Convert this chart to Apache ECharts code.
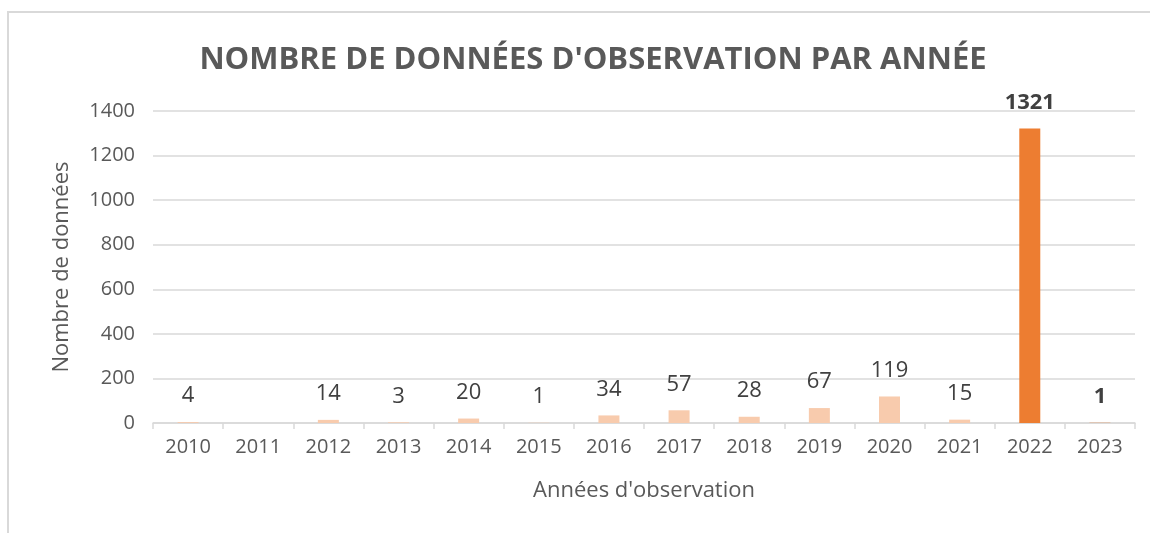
<!DOCTYPE html>
<html lang="fr">
  <head>
    <meta charset="UTF-8" />
    <script src="https://cdn.jsdelivr.net/npm/echarts@6/dist/echarts.min.js"></script>
    <title>Nombre de données d'observation par année</title>
  </head>
  <body style="margin: 0">
    <div id="main" style="width: 1150px; height: 533px"></div>
    <script>
      var years = ["2010", "2011", "2012", "2013", "2014", "2015", "2016",
        "2017", "2018", "2019", "2020", "2021", "2022", "2023"];
      var counts = [4, null, 14, 3, 20, 1, 34, 57, 28, 67, 119, 15, 1321, 1];
      var highlighted = ["2022", "2023"];
      var yTicks = [0, 200, 400, 600, 800, 1000, 1200, 1400];

      var FONT = "Open Sans";
      var myChart = echarts.init(document.getElementById("main"));

      var barData = counts.map(function (v, i) {
        var hi = highlighted.indexOf(years[i]) >= 0;
        return {
          value: v,
          itemStyle: { color: hi ? "#ED7D31" : "#F8CBAD" },
          label: { fontWeight: hi ? "bold" : "normal" },
        };
      });

      var option = {
        animation: false,
        textStyle: { fontFamily: FONT },
        graphic: [
          {
            type: "rect",
            shape: { x: 8, y: 12, width: 1160, height: 560 },
            style: { fill: "none", stroke: "#d9d9d9", lineWidth: 2 },
          },
        ],
        title: {
          text: "NOMBRE DE DONNÉES D'OBSERVATION PAR ANNÉE",
          left: 588,
          textAlign: "center",
          top: 40,
          textStyle: {
            fontFamily: FONT,
            fontSize: 31,
            fontWeight: "bold",
            color: "#595959",
          },
        },
        grid: { left: 153, right: 15, top: 111, bottom: 110 },
        xAxis: {
          type: "category",
          data: years,
          name: "Années d'observation",
          nameLocation: "middle",
          nameGap: 57,
          nameTextStyle: { fontSize: 22, color: "#595959", fontFamily: FONT },
          axisLine: { lineStyle: { color: "#d9d9d9", width: 1.5 } },
          axisTick: { show: true, length: 6, lineStyle: { color: "#d9d9d9", width: 1.5 } },
          axisLabel: { fontSize: 20, color: "#595959", margin: 14 },
        },
        yAxis: {
          type: "value",
          min: yTicks[0],
          max: yTicks[yTicks.length - 1],
          interval: 200,
          name: "Nombre de données",
          nameLocation: "middle",
          nameGap: 80,
          nameTextStyle: { fontSize: 22, color: "#595959", fontFamily: FONT },
          axisLine: { show: false },
          axisTick: { show: false },
          axisLabel: {
            fontSize: 20,
            color: "#595959",
            margin: 18,
            formatter: function (v) { return String(v); },
          },
          splitLine: { lineStyle: { color: "#d9d9d9", width: 1.5 } },
        },
        series: [
          {
            type: "bar",
            data: barData,
            barWidth: 21,
            label: {
              show: true,
              position: "top",
              distance: 15,
              fontSize: 22,
              color: "#404040",
              fontFamily: FONT,
            },
          },
        ],
      };
      myChart.setOption(option);
    </script>
  </body>
</html>
